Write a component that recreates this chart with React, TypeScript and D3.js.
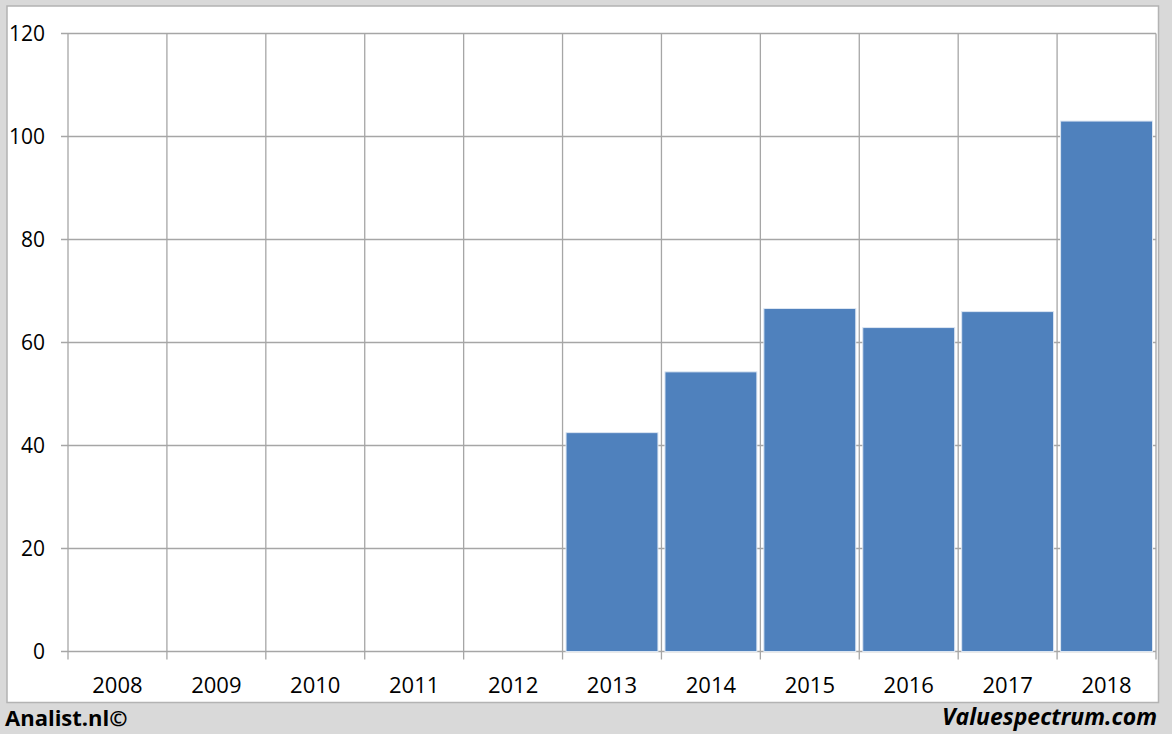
import React from "react";
import * as d3 from "d3";

const years = ["2008", "2009", "2010", "2011", "2012", "2013", "2014", "2015", "2016", "2017", "2018"];
const values: (number | null)[] = [null, null, null, null, null, 42.5, 54.3, 66.6, 62.9, 66.0, 103.0];
const yTicks = [0, 20, 40, 60, 80, 100, 120];

export default function App() {
  const W = 1172, H = 734;
  const left = 68, right = 1156, top = 33.5, bottom = 651.5;
  const x = d3.scaleBand().domain(years).range([left, right]).paddingInner(0).paddingOuter(0);
  const y = d3.scaleLinear().domain([0, 120]).range([bottom, top]);
  const font = "Open Sans, Carlito, Calibri, sans-serif";
  const grid = "#a6a6a6";
  const bw = x.bandwidth();
  const gap = 7;
  return (
    <svg width={W} height={H} style={{ position: "absolute", left: 0, top: 0, display: "block" }}>
      <rect x={0} y={0} width={W} height={H} fill="#d9d9d9" />
      <rect x={7} y={6} width={1151.5} height={696.5} fill="#fff" stroke="#b3b3b3" strokeWidth={1.5} />
      {yTicks.map((t) => (
        <g key={t}>
          <line x1={61} x2={right} y1={y(t)} y2={y(t)} stroke={grid} strokeWidth={1.3} />
          <text x={45} y={y(t)} dy="0.35em" textAnchor="end" fontFamily={font} fontSize={21} fill="#000">
            {t}
          </text>
        </g>
      ))}
      {years.map((yr) => (
        <line key={"v" + yr} x1={x(yr)!} x2={x(yr)!} y1={top} y2={bottom + 8} stroke={grid} strokeWidth={1.3} />
      ))}
      <line x1={right} x2={right} y1={top} y2={bottom + 8} stroke={grid} strokeWidth={1.3} />
      {years.map((yr, i) =>
        values[i] == null ? null : (
          <rect
            key={"b" + yr}
            x={x(yr)! + gap / 2}
            y={y(values[i] as number)}
            width={bw - gap}
            height={bottom - y(values[i] as number)}
            fill="#4f81bd"
            stroke="#dce6f2"
            strokeWidth={1}
          />
        )
      )}
      {years.map((yr) => (
        <text key={"t" + yr} x={x(yr)! + bw / 2} y={685} dy="0.35em" textAnchor="middle" fontFamily={font} fontSize={22} fill="#000">
          {yr}
        </text>
      ))}
      <text x={5} y={718} dy="0.35em" fontFamily={font} fontWeight="bold" fontSize={22} fill="#000">
        Analist.nl©
      </text>
      <text x={1157} y={717} dy="0.35em" textAnchor="end" fontFamily={font} fontWeight="bold" fontStyle="italic" fontSize={23} fill="#000">
        Valuespectrum.com
      </text>
    </svg>
  );
}
